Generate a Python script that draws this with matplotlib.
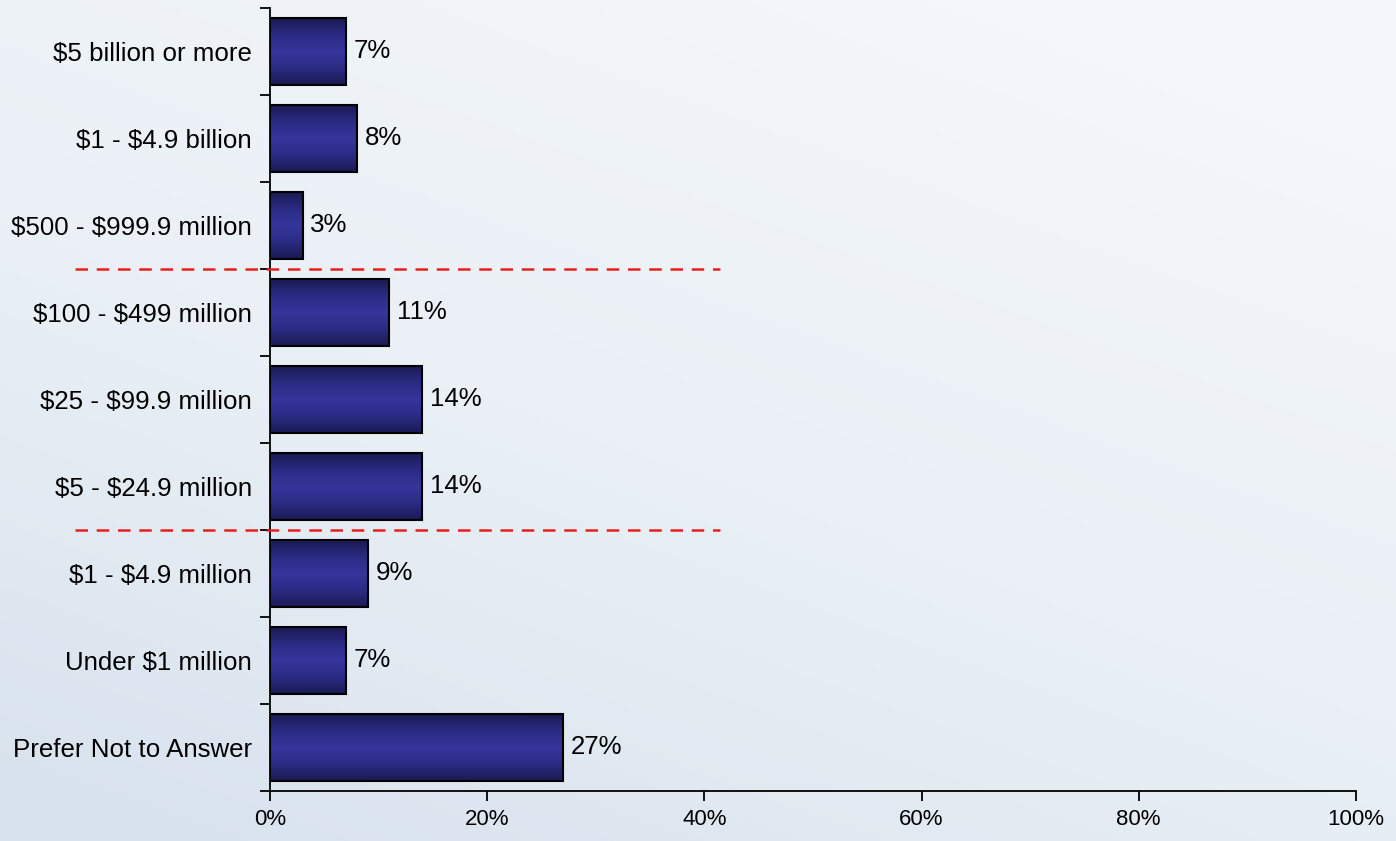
import numpy as np
import matplotlib.pyplot as plt
from matplotlib.colors import LinearSegmentedColormap
from matplotlib.ticker import FixedLocator, FuncFormatter

plt.rcParams['font.family'] = ['Liberation Sans', 'DejaVu Sans']
plt.rcParams['text.parse_math'] = False

categories = ['$5 billion or more', '$1 - $4.9 billion', '$500 - $999.9 million',
              '$100 - $499 million', '$25 - $99.9 million', '$5 - $24.9 million',
              '$1 - $4.9 million', 'Under $1 million', 'Prefer Not to Answer']
values = [7, 8, 3, 11, 14, 14, 9, 7, 27]
xticks = [0, 20, 40, 60, 80, 100]
# dashed separators sit between these category groups
split_after = [2, 5]

fig = plt.figure(figsize=(13.96, 8.41), dpi=100)

# pale watery backdrop: whiter at the top, bluer towards the lower left
bg = fig.add_axes([0, 0, 1, 1], zorder=-10)
gx = np.linspace(0, 1, 300)
gy = np.linspace(0, 1, 200)
X, Y = np.meshgrid(gx, gy)
shade = np.clip(0.45 * (1 - X) + 0.75 * (1 - Y) - 0.15, 0, 1)
bg_cmap = LinearSegmentedColormap.from_list('bg', ['#f3f6fa', '#eaf0f6', '#d9e3ee'])
bg.imshow(shade, cmap=bg_cmap, aspect='auto', extent=[0, 1, 0, 1], origin='lower')
bg.axis('off')

ax = fig.add_axes([0.1934, 0.0595, 0.7779, 0.931])
ax.patch.set_alpha(0)

n = len(categories)
ypos = np.arange(n)[::-1]
height = 0.76

bar_cmap = LinearSegmentedColormap.from_list(
    'bar', ['#1a1a52', '#2b2b85', '#35359c', '#2b2b85', '#1a1a52'])
grad = np.linspace(0, 1, 256).reshape(-1, 1)

for y, v in zip(ypos, values):
    ax.imshow(grad, cmap=bar_cmap, aspect='auto', interpolation='bicubic',
              extent=[0, v, y - height / 2, y + height / 2], zorder=2)
    ax.barh(y, v, height=height, facecolor='none', edgecolor='black',
            linewidth=1.5, zorder=3)
    ax.text(v + 0.7, y, f'{v}%', va='center', ha='left', fontsize=18.6,
            color='black', zorder=4)

ax.set_xlim(0, 100)
ax.set_ylim(-0.5, n - 0.5)

ax.set_yticks(ypos)
ax.set_yticklabels(categories, fontsize=18.6)
ax.yaxis.set_minor_locator(FixedLocator(np.arange(n + 1) - 0.5))
ax.tick_params(axis='y', which='major', length=0, pad=13)
ax.tick_params(axis='y', which='minor', length=7, width=1.3, direction='out')

ax.set_xticks(xticks)
ax.xaxis.set_major_formatter(FuncFormatter(lambda t, p: f'{t:.0f}%'))
ax.tick_params(axis='x', length=7, width=1.3, direction='out', labelsize=16, pad=6)

for s in ['top', 'right']:
    ax.spines[s].set_visible(False)
for s in ['left', 'bottom']:
    ax.spines[s].set_linewidth(1.3)

trans = ax.get_yaxis_transform()
for k in split_after:
    yy = ypos[k] - 0.5
    # runs out past the axis into the label area
    ax.plot([-0.1796, 0.4144], [yy, yy], transform=trans, color='#e8201c',
            linestyle=(0, (5, 3.5)), linewidth=1.8, clip_on=False, zorder=5)

fig.savefig('out.png', dpi=100)
